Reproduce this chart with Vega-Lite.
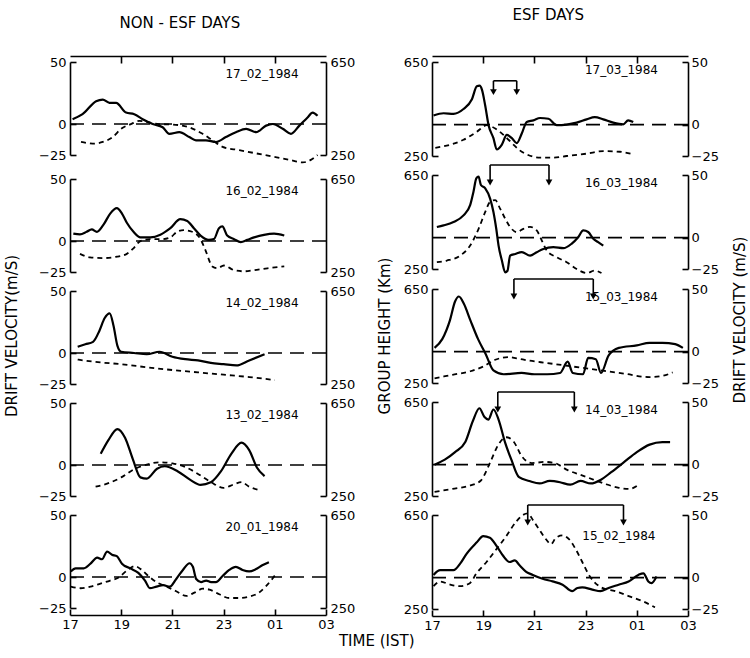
{
"$schema": "https://vega.github.io/schema/vega-lite/v6.json",
"background": "white",
"padding": {"left": 4, "top": 8, "right": 2, "bottom": 2},
"config": {
  "font": "DejaVu Sans",
  "view": {"stroke": null},
  "axis": {"domainColor": "black", "domainWidth": 1.6, "tickColor": "black", "tickWidth": 1.6, "labelColor": "black", "labelFontSize": 13, "grid": false, "labelFlush": false, "labelOverlap": false},
  "title": {"color": "black", "fontWeight": "normal", "fontSize": 15},
  "header": {"titleFontWeight": "normal", "titleFontSize": 15, "titleColor": "black"}
},
"title": {"text": "TIME (IST)", "orient": "bottom", "anchor": "middle", "offset": 2},
"datasets": {
"left": [
{"p":"17_02_1984","t":17.10,"v":3.9},{"p":"17_02_1984","t":17.49,"v":7.9},{"p":"17_02_1984","t":18.02,"v":18.4},{"p":"17_02_1984","t":18.28,"v":19.7},{"p":"17_02_1984","t":18.54,"v":17.1},{"p":"17_02_1984","t":18.80,"v":17.1},{"p":"17_02_1984","t":19.19,"v":9.2},{"p":"17_02_1984","t":19.51,"v":7.9},{"p":"17_02_1984","t":19.84,"v":3.9},{"p":"17_02_1984","t":20.23,"v":0},{"p":"17_02_1984","t":20.62,"v":-2.6},{"p":"17_02_1984","t":20.88,"v":-7.9},{"p":"17_02_1984","t":21.27,"v":-6.6},{"p":"17_02_1984","t":21.66,"v":-10.5},{"p":"17_02_1984","t":21.92,"v":-13.2},{"p":"17_02_1984","t":22.31,"v":-13.2},{"p":"17_02_1984","t":22.70,"v":-14.5},{"p":"17_02_1984","t":23.09,"v":-10.5},{"p":"17_02_1984","t":23.48,"v":-6.6},{"p":"17_02_1984","t":23.88,"v":-3.9},{"p":"17_02_1984","t":24.27,"v":-6.6},{"p":"17_02_1984","t":24.66,"v":-1.3},{"p":"17_02_1984","t":24.92,"v":0},{"p":"17_02_1984","t":25.31,"v":-3.9},{"p":"17_02_1984","t":25.63,"v":-7.9},{"p":"17_02_1984","t":25.96,"v":-1.3},{"p":"17_02_1984","t":26.28,"v":5.3},{"p":"17_02_1984","t":26.48,"v":9.2},{"p":"17_02_1984","t":26.67,"v":6.6},
{"p":"17_02_1984","t":17.43,"h":306},{"p":"17_02_1984","t":17.89,"h":299},{"p":"17_02_1984","t":18.28,"h":306},{"p":"17_02_1984","t":18.67,"h":327},{"p":"17_02_1984","t":18.99,"h":362},{"p":"17_02_1984","t":19.38,"h":383},{"p":"17_02_1984","t":19.71,"h":397},{"p":"17_02_1984","t":20.10,"h":390},{"p":"17_02_1984","t":20.49,"h":383},{"p":"17_02_1984","t":21.01,"h":381},{"p":"17_02_1984","t":21.66,"h":369},{"p":"17_02_1984","t":22.18,"h":341},{"p":"17_02_1984","t":22.57,"h":313},{"p":"17_02_1984","t":22.96,"h":285},{"p":"17_02_1984","t":23.61,"h":271},{"p":"17_02_1984","t":24.27,"h":257},{"p":"17_02_1984","t":24.92,"h":243},{"p":"17_02_1984","t":25.57,"h":229},{"p":"17_02_1984","t":26.09,"h":218},{"p":"17_02_1984","t":26.41,"h":229},{"p":"17_02_1984","t":26.67,"h":250},
{"p":"16_02_1984","t":17.13,"v":5.9},{"p":"16_02_1984","t":17.39,"v":5.3},{"p":"16_02_1984","t":17.65,"v":7.4},{"p":"16_02_1984","t":17.85,"v":9.4},{"p":"16_02_1984","t":18.05,"v":7.4},{"p":"16_02_1984","t":18.31,"v":13.2},{"p":"16_02_1984","t":18.57,"v":22.1},{"p":"16_02_1984","t":18.83,"v":26.5},{"p":"16_02_1984","t":19.03,"v":22.1},{"p":"16_02_1984","t":19.22,"v":14.7},{"p":"16_02_1984","t":19.48,"v":7.4},{"p":"16_02_1984","t":19.75,"v":2.9},{"p":"16_02_1984","t":20.14,"v":2.9},{"p":"16_02_1984","t":20.53,"v":5.0},{"p":"16_02_1984","t":20.92,"v":10.3},{"p":"16_02_1984","t":21.31,"v":17.6},{"p":"16_02_1984","t":21.58,"v":16.2},{"p":"16_02_1984","t":21.84,"v":10.3},{"p":"16_02_1984","t":22.10,"v":4.4},{"p":"16_02_1984","t":22.42,"v":0.9},{"p":"16_02_1984","t":22.62,"v":1.5},{"p":"16_02_1984","t":22.82,"v":10.3},{"p":"16_02_1984","t":22.95,"v":11.8},{"p":"16_02_1984","t":23.14,"v":4.4},{"p":"16_02_1984","t":23.41,"v":1.5},{"p":"16_02_1984","t":23.67,"v":-0.9},{"p":"16_02_1984","t":23.93,"v":0.9},{"p":"16_02_1984","t":24.19,"v":2.9},{"p":"16_02_1984","t":24.58,"v":5.0},{"p":"16_02_1984","t":24.97,"v":5.9},{"p":"16_02_1984","t":25.37,"v":4.4},
{"p":"16_02_1984","t":17.39,"h":328},{"p":"16_02_1984","t":17.78,"h":313},{"p":"16_02_1984","t":18.31,"h":310},{"p":"16_02_1984","t":18.83,"h":316},{"p":"16_02_1984","t":19.22,"h":328},{"p":"16_02_1984","t":19.48,"h":352},{"p":"16_02_1984","t":19.75,"h":383},{"p":"16_02_1984","t":20.14,"h":391},{"p":"16_02_1984","t":20.53,"h":391},{"p":"16_02_1984","t":20.92,"h":399},{"p":"16_02_1984","t":21.18,"h":423},{"p":"16_02_1984","t":21.44,"h":430},{"p":"16_02_1984","t":21.77,"h":423},{"p":"16_02_1984","t":22.10,"h":391},{"p":"16_02_1984","t":22.29,"h":344},{"p":"16_02_1984","t":22.56,"h":274},{"p":"16_02_1984","t":22.75,"h":266},{"p":"16_02_1984","t":23.01,"h":278},{"p":"16_02_1984","t":23.41,"h":258},{"p":"16_02_1984","t":23.80,"h":253},{"p":"16_02_1984","t":24.19,"h":258},{"p":"16_02_1984","t":24.71,"h":266},{"p":"16_02_1984","t":25.37,"h":274},
{"p":"14_02_1984","t":17.3,"v":5},{"p":"14_02_1984","t":17.6,"v":7},{"p":"14_02_1984","t":17.9,"v":9},{"p":"14_02_1984","t":18.15,"v":18},{"p":"14_02_1984","t":18.35,"v":28},{"p":"14_02_1984","t":18.55,"v":32},{"p":"14_02_1984","t":18.7,"v":22},{"p":"14_02_1984","t":18.85,"v":6},{"p":"14_02_1984","t":19.0,"v":1},{"p":"14_02_1984","t":19.5,"v":0},{"p":"14_02_1984","t":20.0,"v":-1},{"p":"14_02_1984","t":20.5,"v":1},{"p":"14_02_1984","t":21.0,"v":-3},{"p":"14_02_1984","t":21.5,"v":-5},{"p":"14_02_1984","t":22.0,"v":-6},{"p":"14_02_1984","t":22.5,"v":-8},{"p":"14_02_1984","t":23.0,"v":-9},{"p":"14_02_1984","t":23.5,"v":-10},{"p":"14_02_1984","t":24.0,"v":-6},{"p":"14_02_1984","t":24.6,"v":-1},
{"p":"14_02_1984","t":17.3,"h":355},{"p":"14_02_1984","t":18.0,"h":345},{"p":"14_02_1984","t":19.0,"h":335},{"p":"14_02_1984","t":20.0,"h":322},{"p":"14_02_1984","t":21.0,"h":310},{"p":"14_02_1984","t":22.0,"h":300},{"p":"14_02_1984","t":23.0,"h":290},{"p":"14_02_1984","t":24.0,"h":280},{"p":"14_02_1984","t":25.0,"h":267},
{"p":"13_02_1984","t":18.2,"v":9},{"p":"13_02_1984","t":18.5,"v":20},{"p":"13_02_1984","t":18.85,"v":29},{"p":"13_02_1984","t":19.15,"v":22},{"p":"13_02_1984","t":19.45,"v":5},{"p":"13_02_1984","t":19.75,"v":-10},{"p":"13_02_1984","t":20.0,"v":-11},{"p":"13_02_1984","t":20.4,"v":-3},{"p":"13_02_1984","t":20.7,"v":-1},{"p":"13_02_1984","t":21.2,"v":-5},{"p":"13_02_1984","t":21.7,"v":-12},{"p":"13_02_1984","t":22.1,"v":-16},{"p":"13_02_1984","t":22.5,"v":-14},{"p":"13_02_1984","t":22.9,"v":-5},{"p":"13_02_1984","t":23.3,"v":9},{"p":"13_02_1984","t":23.7,"v":18},{"p":"13_02_1984","t":24.0,"v":12},{"p":"13_02_1984","t":24.3,"v":-2},{"p":"13_02_1984","t":24.6,"v":-9},
{"p":"13_02_1984","t":18.0,"h":290},{"p":"13_02_1984","t":18.5,"h":305},{"p":"13_02_1984","t":19.0,"h":330},{"p":"13_02_1984","t":19.5,"h":365},{"p":"13_02_1984","t":20.0,"h":385},{"p":"13_02_1984","t":20.5,"h":395},{"p":"13_02_1984","t":21.0,"h":390},{"p":"13_02_1984","t":21.5,"h":375},{"p":"13_02_1984","t":22.0,"h":345},{"p":"13_02_1984","t":22.5,"h":310},{"p":"13_02_1984","t":23.0,"h":285},{"p":"13_02_1984","t":23.4,"h":300},{"p":"13_02_1984","t":23.7,"h":310},{"p":"13_02_1984","t":24.0,"h":290},{"p":"13_02_1984","t":24.4,"h":275},
{"p":"20_01_1984","t":17.03,"v":4.5},{"p":"20_01_1984","t":17.22,"v":7.0},{"p":"20_01_1984","t":17.54,"v":7.0},{"p":"20_01_1984","t":17.80,"v":10.7},{"p":"20_01_1984","t":18.06,"v":15.6},{"p":"20_01_1984","t":18.25,"v":14.3},{"p":"20_01_1984","t":18.45,"v":20.5},{"p":"20_01_1984","t":18.64,"v":18.0},{"p":"20_01_1984","t":18.83,"v":16.8},{"p":"20_01_1984","t":19.03,"v":10.7},{"p":"20_01_1984","t":19.35,"v":7.0},{"p":"20_01_1984","t":19.67,"v":3.3},{"p":"20_01_1984","t":19.93,"v":-2.9},{"p":"20_01_1984","t":20.12,"v":-9.0},{"p":"20_01_1984","t":20.38,"v":-7.8},{"p":"20_01_1984","t":20.64,"v":-6.6},{"p":"20_01_1984","t":20.90,"v":-7.8},{"p":"20_01_1984","t":21.15,"v":-1.6},{"p":"20_01_1984","t":21.41,"v":5.7},{"p":"20_01_1984","t":21.67,"v":11.1},{"p":"20_01_1984","t":21.80,"v":8.2},{"p":"20_01_1984","t":21.93,"v":-1.6},{"p":"20_01_1984","t":22.12,"v":-4.1},{"p":"20_01_1984","t":22.32,"v":-2.9},{"p":"20_01_1984","t":22.51,"v":-4.1},{"p":"20_01_1984","t":22.70,"v":-4.1},{"p":"20_01_1984","t":22.96,"v":0.8},{"p":"20_01_1984","t":23.22,"v":5.7},{"p":"20_01_1984","t":23.48,"v":8.2},{"p":"20_01_1984","t":23.74,"v":5.7},{"p":"20_01_1984","t":24.00,"v":4.5},{"p":"20_01_1984","t":24.25,"v":6.2},{"p":"20_01_1984","t":24.51,"v":9.4},{"p":"20_01_1984","t":24.77,"v":11.9},
{"p":"20_01_1984","t":17.03,"h":342},{"p":"20_01_1984","t":17.41,"h":335},{"p":"20_01_1984","t":17.80,"h":342},{"p":"20_01_1984","t":18.19,"h":355},{"p":"20_01_1984","t":18.57,"h":368},{"p":"20_01_1984","t":18.90,"h":381},{"p":"20_01_1984","t":19.22,"h":411},{"p":"20_01_1984","t":19.54,"h":430},{"p":"20_01_1984","t":19.80,"h":414},{"p":"20_01_1984","t":20.06,"h":388},{"p":"20_01_1984","t":20.38,"h":361},{"p":"20_01_1984","t":20.77,"h":342},{"p":"20_01_1984","t":21.15,"h":322},{"p":"20_01_1984","t":21.54,"h":302},{"p":"20_01_1984","t":21.86,"h":316},{"p":"20_01_1984","t":22.19,"h":333},{"p":"20_01_1984","t":22.45,"h":329},{"p":"20_01_1984","t":22.83,"h":309},{"p":"20_01_1984","t":23.22,"h":293},{"p":"20_01_1984","t":23.61,"h":293},{"p":"20_01_1984","t":24.00,"h":299},{"p":"20_01_1984","t":24.38,"h":316},{"p":"20_01_1984","t":24.64,"h":342},{"p":"20_01_1984","t":24.90,"h":375},{"p":"20_01_1984","t":25.03,"h":394}
],
"right": [
{"p":"17_03_1984","s":19.4,"e":20.31},{"p":"16_03_1984","s":19.27,"e":21.57},{"p":"15_03_1984","s":20.2,"e":23.3},{"p":"14_03_1984","s":19.57,"e":22.56},{"p":"15_02_1984","s":20.74,"e":24.48},
{"p":"17_03_1984","t":17.06,"v":7.3},{"p":"17_03_1984","t":17.45,"v":9.1},{"p":"17_03_1984","t":17.84,"v":8.6},{"p":"17_03_1984","t":18.23,"v":12.5},{"p":"17_03_1984","t":18.56,"v":20.3},{"p":"17_03_1984","t":18.75,"v":30.6},{"p":"17_03_1984","t":18.86,"v":31.1},{"p":"17_03_1984","t":18.95,"v":28.0},{"p":"17_03_1984","t":19.08,"v":15.1},{"p":"17_03_1984","t":19.21,"v":-0.4},{"p":"17_03_1984","t":19.40,"v":-10.8},{"p":"17_03_1984","t":19.53,"v":-19.8},{"p":"17_03_1984","t":19.73,"v":-15.9},{"p":"17_03_1984","t":19.92,"v":-8.2},{"p":"17_03_1984","t":20.12,"v":-10.8},{"p":"17_03_1984","t":20.31,"v":-14.7},{"p":"17_03_1984","t":20.51,"v":-6.9},{"p":"17_03_1984","t":20.70,"v":2.2},{"p":"17_03_1984","t":20.96,"v":3.4},{"p":"17_03_1984","t":21.22,"v":5.3},{"p":"17_03_1984","t":21.55,"v":4.7},{"p":"17_03_1984","t":21.87,"v":-0.4},{"p":"17_03_1984","t":22.26,"v":0.1},{"p":"17_03_1984","t":22.65,"v":1.6},{"p":"17_03_1984","t":23.04,"v":4.2},{"p":"17_03_1984","t":23.36,"v":6.0},{"p":"17_03_1984","t":23.69,"v":4.2},{"p":"17_03_1984","t":24.08,"v":1.6},{"p":"17_03_1984","t":24.47,"v":0.3},{"p":"17_03_1984","t":24.66,"v":3.4},{"p":"17_03_1984","t":24.86,"v":2.1},
{"p":"17_03_1984","t":17.13,"h":285},{"p":"17_03_1984","t":17.71,"h":298},{"p":"17_03_1984","t":18.23,"h":319},{"p":"17_03_1984","t":18.75,"h":353},{"p":"17_03_1984","t":19.14,"h":381},{"p":"17_03_1984","t":19.47,"h":367},{"p":"17_03_1984","t":19.79,"h":340},{"p":"17_03_1984","t":20.12,"h":305},{"p":"17_03_1984","t":20.38,"h":278},{"p":"17_03_1984","t":20.70,"h":257},{"p":"17_03_1984","t":21.22,"h":243},{"p":"17_03_1984","t":21.74,"h":243},{"p":"17_03_1984","t":22.26,"h":250},{"p":"17_03_1984","t":23.04,"h":260},{"p":"17_03_1984","t":23.69,"h":271},{"p":"17_03_1984","t":24.34,"h":268},{"p":"17_03_1984","t":24.86,"h":257},
{"p":"16_03_1984","t":17.19,"v":8.5},{"p":"16_03_1984","t":17.45,"v":9.8},{"p":"16_03_1984","t":17.84,"v":12.5},{"p":"16_03_1984","t":18.23,"v":17.8},{"p":"16_03_1984","t":18.49,"v":25.9},{"p":"16_03_1984","t":18.62,"v":36.6},{"p":"16_03_1984","t":18.73,"v":47.3},{"p":"16_03_1984","t":18.82,"v":48.7},{"p":"16_03_1984","t":18.91,"v":42.0},{"p":"16_03_1984","t":19.08,"v":39.3},{"p":"16_03_1984","t":19.27,"v":31.2},{"p":"16_03_1984","t":19.40,"v":20.5},{"p":"16_03_1984","t":19.51,"v":7.1},{"p":"16_03_1984","t":19.60,"v":-6.3},{"p":"16_03_1984","t":19.73,"v":-18.3},{"p":"16_03_1984","t":19.86,"v":-27.7},{"p":"16_03_1984","t":19.95,"v":-26.4},{"p":"16_03_1984","t":20.05,"v":-14.3},{"p":"16_03_1984","t":20.25,"v":-13.0},{"p":"16_03_1984","t":20.51,"v":-11.6},{"p":"16_03_1984","t":20.83,"v":-14.3},{"p":"16_03_1984","t":21.09,"v":-11.6},{"p":"16_03_1984","t":21.35,"v":-9.0},{"p":"16_03_1984","t":21.74,"v":-7.6},{"p":"16_03_1984","t":22.13,"v":-8.4},{"p":"16_03_1984","t":22.45,"v":-4.9},{"p":"16_03_1984","t":22.71,"v":0.4},{"p":"16_03_1984","t":22.91,"v":5.8},{"p":"16_03_1984","t":23.10,"v":4.5},{"p":"16_03_1984","t":23.30,"v":-0.9},{"p":"16_03_1984","t":23.49,"v":-3.6},{"p":"16_03_1984","t":23.69,"v":-6.3},
{"p":"16_03_1984","t":17.19,"h":279},{"p":"16_03_1984","t":17.58,"h":286},{"p":"16_03_1984","t":18.10,"h":307},{"p":"16_03_1984","t":18.49,"h":350},{"p":"16_03_1984","t":18.82,"h":421},{"p":"16_03_1984","t":19.08,"h":493},{"p":"16_03_1984","t":19.27,"h":536},{"p":"16_03_1984","t":19.47,"h":543},{"p":"16_03_1984","t":19.66,"h":507},{"p":"16_03_1984","t":19.86,"h":464},{"p":"16_03_1984","t":20.05,"h":429},{"p":"16_03_1984","t":20.31,"h":407},{"p":"16_03_1984","t":20.57,"h":421},{"p":"16_03_1984","t":20.83,"h":429},{"p":"16_03_1984","t":21.09,"h":414},{"p":"16_03_1984","t":21.29,"h":371},{"p":"16_03_1984","t":21.48,"h":329},{"p":"16_03_1984","t":21.87,"h":300},{"p":"16_03_1984","t":22.26,"h":279},{"p":"16_03_1984","t":22.65,"h":250},{"p":"16_03_1984","t":23.04,"h":233},{"p":"16_03_1984","t":23.36,"h":243},{"p":"16_03_1984","t":23.62,"h":233},
{"p":"15_03_1984","t":17.1,"v":3},{"p":"15_03_1984","t":17.4,"v":10},{"p":"15_03_1984","t":17.7,"v":25},{"p":"15_03_1984","t":17.9,"v":40},{"p":"15_03_1984","t":18.05,"v":44},{"p":"15_03_1984","t":18.25,"v":38},{"p":"15_03_1984","t":18.5,"v":25},{"p":"15_03_1984","t":18.8,"v":10},{"p":"15_03_1984","t":19.1,"v":-2},{"p":"15_03_1984","t":19.4,"v":-15},{"p":"15_03_1984","t":19.8,"v":-18},{"p":"15_03_1984","t":20.5,"v":-17},{"p":"15_03_1984","t":21.0,"v":-18},{"p":"15_03_1984","t":21.5,"v":-18},{"p":"15_03_1984","t":22.0,"v":-17},{"p":"15_03_1984","t":22.3,"v":-8},{"p":"15_03_1984","t":22.5,"v":-17},{"p":"15_03_1984","t":22.9,"v":-18},{"p":"15_03_1984","t":23.1,"v":-5},{"p":"15_03_1984","t":23.4,"v":-6},{"p":"15_03_1984","t":23.6,"v":-17},{"p":"15_03_1984","t":23.9,"v":-3},{"p":"15_03_1984","t":24.3,"v":3},{"p":"15_03_1984","t":25.0,"v":5},{"p":"15_03_1984","t":25.5,"v":7},{"p":"15_03_1984","t":26.0,"v":7},{"p":"15_03_1984","t":26.5,"v":6},{"p":"15_03_1984","t":26.8,"v":3},
{"p":"15_03_1984","t":17.1,"h":270},{"p":"15_03_1984","t":17.8,"h":285},{"p":"15_03_1984","t":18.5,"h":300},{"p":"15_03_1984","t":19.0,"h":320},{"p":"15_03_1984","t":19.5,"h":350},{"p":"15_03_1984","t":20.0,"h":360},{"p":"15_03_1984","t":20.3,"h":355},{"p":"15_03_1984","t":20.8,"h":345},{"p":"15_03_1984","t":21.5,"h":335},{"p":"15_03_1984","t":22.5,"h":320},{"p":"15_03_1984","t":23.5,"h":305},{"p":"15_03_1984","t":24.5,"h":290},{"p":"15_03_1984","t":25.5,"h":275},{"p":"15_03_1984","t":26.0,"h":280},{"p":"15_03_1984","t":26.4,"h":295},
{"p":"14_03_1984","t":17.1,"v":0},{"p":"14_03_1984","t":17.5,"v":4},{"p":"14_03_1984","t":17.9,"v":10},{"p":"14_03_1984","t":18.3,"v":18},{"p":"14_03_1984","t":18.6,"v":35},{"p":"14_03_1984","t":18.85,"v":45},{"p":"14_03_1984","t":19.05,"v":38},{"p":"14_03_1984","t":19.2,"v":36},{"p":"14_03_1984","t":19.4,"v":44},{"p":"14_03_1984","t":19.6,"v":36},{"p":"14_03_1984","t":19.85,"v":18},{"p":"14_03_1984","t":20.1,"v":4},{"p":"14_03_1984","t":20.4,"v":-10},{"p":"14_03_1984","t":20.8,"v":-13},{"p":"14_03_1984","t":21.2,"v":-15},{"p":"14_03_1984","t":21.6,"v":-13},{"p":"14_03_1984","t":22.0,"v":-14},{"p":"14_03_1984","t":22.4,"v":-16},{"p":"14_03_1984","t":22.8,"v":-13},{"p":"14_03_1984","t":23.2,"v":-15},{"p":"14_03_1984","t":23.6,"v":-12},{"p":"14_03_1984","t":24.0,"v":-6},{"p":"14_03_1984","t":24.5,"v":2},{"p":"14_03_1984","t":25.0,"v":10},{"p":"14_03_1984","t":25.5,"v":16},{"p":"14_03_1984","t":26.0,"v":18},{"p":"14_03_1984","t":26.3,"v":18},
{"p":"14_03_1984","t":17.1,"h":268},{"p":"14_03_1984","t":17.8,"h":280},{"p":"14_03_1984","t":18.5,"h":295},{"p":"14_03_1984","t":18.9,"h":315},{"p":"14_03_1984","t":19.3,"h":400},{"p":"14_03_1984","t":19.6,"h":470},{"p":"14_03_1984","t":19.9,"h":500},{"p":"14_03_1984","t":20.2,"h":480},{"p":"14_03_1984","t":20.5,"h":420},{"p":"14_03_1984","t":20.9,"h":390},{"p":"14_03_1984","t":21.4,"h":395},{"p":"14_03_1984","t":21.8,"h":390},{"p":"14_03_1984","t":22.3,"h":360},{"p":"14_03_1984","t":22.8,"h":340},{"p":"14_03_1984","t":23.3,"h":320},{"p":"14_03_1984","t":23.8,"h":300},{"p":"14_03_1984","t":24.3,"h":285},{"p":"14_03_1984","t":24.7,"h":280},{"p":"14_03_1984","t":25.1,"h":300},
{"p":"15_02_1984","t":17.06,"v":2.2},{"p":"15_02_1984","t":17.32,"v":6.0},{"p":"15_02_1984","t":17.84,"v":6.0},{"p":"15_02_1984","t":18.10,"v":11.2},{"p":"15_02_1984","t":18.35,"v":19.0},{"p":"15_02_1984","t":18.74,"v":28.0},{"p":"15_02_1984","t":19.00,"v":33.2},{"p":"15_02_1984","t":19.26,"v":31.9},{"p":"15_02_1984","t":19.52,"v":25.4},{"p":"15_02_1984","t":19.77,"v":17.7},{"p":"15_02_1984","t":20.03,"v":12.5},{"p":"15_02_1984","t":20.23,"v":13.8},{"p":"15_02_1984","t":20.42,"v":9.9},{"p":"15_02_1984","t":20.68,"v":4.7},{"p":"15_02_1984","t":20.94,"v":2.2},{"p":"15_02_1984","t":21.32,"v":-0.9},{"p":"15_02_1984","t":21.71,"v":-3.0},{"p":"15_02_1984","t":22.10,"v":-5.6},{"p":"15_02_1984","t":22.48,"v":-10.8},{"p":"15_02_1984","t":22.68,"v":-8.2},{"p":"15_02_1984","t":22.87,"v":-7.7},{"p":"15_02_1984","t":23.26,"v":-9.5},{"p":"15_02_1984","t":23.58,"v":-10.8},{"p":"15_02_1984","t":23.90,"v":-8.2},{"p":"15_02_1984","t":24.29,"v":-5.6},{"p":"15_02_1984","t":24.68,"v":-3.0},{"p":"15_02_1984","t":25.06,"v":2.2},{"p":"15_02_1984","t":25.26,"v":3.5},{"p":"15_02_1984","t":25.45,"v":-3.0},{"p":"15_02_1984","t":25.58,"v":-4.3},{"p":"15_02_1984","t":25.77,"v":0.9},
{"p":"15_02_1984","t":17.06,"h":347},{"p":"15_02_1984","t":17.32,"h":367},{"p":"15_02_1984","t":17.71,"h":354},{"p":"15_02_1984","t":18.10,"h":347},{"p":"15_02_1984","t":18.48,"h":360},{"p":"15_02_1984","t":18.74,"h":402},{"p":"15_02_1984","t":19.13,"h":450},{"p":"15_02_1984","t":19.52,"h":505},{"p":"15_02_1984","t":19.90,"h":560},{"p":"15_02_1984","t":20.29,"h":622},{"p":"15_02_1984","t":20.55,"h":650},{"p":"15_02_1984","t":20.74,"h":657},{"p":"15_02_1984","t":20.94,"h":629},{"p":"15_02_1984","t":21.19,"h":588},{"p":"15_02_1984","t":21.45,"h":547},{"p":"15_02_1984","t":21.65,"h":526},{"p":"15_02_1984","t":21.84,"h":553},{"p":"15_02_1984","t":22.10,"h":563},{"p":"15_02_1984","t":22.35,"h":547},{"p":"15_02_1984","t":22.61,"h":505},{"p":"15_02_1984","t":22.87,"h":450},{"p":"15_02_1984","t":23.13,"h":395},{"p":"15_02_1984","t":23.32,"h":367},{"p":"15_02_1984","t":23.65,"h":340},{"p":"15_02_1984","t":24.16,"h":326},{"p":"15_02_1984","t":24.68,"h":305},{"p":"15_02_1984","t":25.19,"h":285},{"p":"15_02_1984","t":25.71,"h":257}
]
},
"spacing": 22,
"hconcat": [
{
  "data": {"name": "left"},
  "title": {"text": "NON - ESF DAYS", "offset": 24, "anchor": "middle"},
  "facet": {"row": {"field": "p", "type": "nominal", "sort": ["17_02_1984","16_02_1984","14_02_1984","13_02_1984","20_01_1984"], "header": {"labels": false, "title": "DRIFT VELOCITY(m/S)", "titleOrient": "left", "titlePadding": 8}}},
  "spacing": 6,
  "resolve": {"scale": {"y": "independent"}},
  "spec": {
    "width": 256, "height": 93,
    "layer": [
      {"transform": [{"aggregate": [{"op": "count", "as": "n"}], "groupby": ["p"]}],
       "mark": {"type": "rule", "strokeDash": [14, 8], "strokeWidth": 1.6, "color": "black"},
       "encoding": {"y": {"datum": 0, "type": "quantitative", "scale": {"domain": [-25, 50], "nice": false, "zero": false}, "axis": null}}},
      {"transform": [{"filter": "isValid(datum.v)"}],
       "mark": {"type": "line", "strokeWidth": 2.2, "color": "black", "interpolate": "monotone"},
       "encoding": {
         "x": {"field": "t", "type": "quantitative", "scale": {"domain": [17, 27], "nice": false, "zero": false},
               "axis": {"orient": "bottom", "values": [17, 19, 21, 23, 25, 27], "labelExpr": "datum.value > 24 ? '0' + (datum.value - 24) : '' + datum.value", "tickSize": -6, "labelPadding": 9, "title": null}},
         "y": {"field": "v", "type": "quantitative", "scale": {"domain": [-25, 50], "nice": false, "zero": false},
               "axis": {"orient": "left", "values": [-25, 0, 50], "tickSize": -6, "labelPadding": 10, "title": null}}}},
      {"transform": [{"aggregate": [{"op": "count", "as": "n"}], "groupby": ["p"]}],
       "mark": {"type": "text", "fontSize": 12, "color": "black", "align": "center", "baseline": "middle"},
       "encoding": {"text": {"field": "p"},
         "x": {"datum": 24.5, "type": "quantitative", "axis": null},
         "y": {"datum": 40, "type": "quantitative", "scale": {"domain": [-25, 50], "nice": false, "zero": false}, "axis": null}}},
      {"transform": [{"filter": "isValid(datum.h)"}],
       "mark": {"type": "line", "strokeWidth": 1.8, "color": "black", "strokeDash": [5, 4], "interpolate": "monotone"},
       "encoding": {
         "x": {"field": "t", "type": "quantitative", "scale": {"domain": [17, 27], "nice": false, "zero": false},
               "axis": {"orient": "top", "values": [19, 21, 23, 25], "labels": false, "tickSize": -7, "title": null}},
         "y": {"field": "h", "type": "quantitative", "scale": {"domain": [250, 650], "nice": false, "zero": false},
               "axis": {"orient": "right", "values": [250, 650], "tickSize": -6, "labelPadding": 10, "title": null}}}}
    ],
    "resolve": {"scale": {"y": "independent"}}
  }
},
{
  "title": {"text": "DRIFT VELOCITY (m/S)", "orient": "right", "anchor": "middle", "angle": -90, "offset": 0},
  "vconcat": [
  {
  "data": {"name": "right"},
  "title": {"text": "ESF DAYS", "offset": 32, "anchor": "middle"},
  "facet": {"row": {"field": "p", "type": "nominal", "sort": ["17_03_1984","16_03_1984","15_03_1984","14_03_1984","15_02_1984"], "header": {"labels": false, "title": "GROUP HEIGHT (Km)", "titleOrient": "left", "titlePadding": 0}}},
  "spacing": 1,
  "resolve": {"scale": {"y": "independent"}},
  "spec": {
    "width": 256, "height": 94,
    "layer": [
      {"transform": [{"aggregate": [{"op": "count", "as": "n"}], "groupby": ["p"]}],
       "mark": {"type": "rule", "strokeDash": [14, 8], "strokeWidth": 1.6, "color": "black"},
       "encoding": {"y": {"datum": 0, "type": "quantitative", "scale": {"domain": [-25, 50], "nice": false, "zero": false}, "axis": null}}},
      {"transform": [{"filter": "isValid(datum.v)"}],
       "mark": {"type": "line", "strokeWidth": 2.2, "color": "black", "interpolate": "monotone"},
       "encoding": {
         "x": {"field": "t", "type": "quantitative", "scale": {"domain": [17, 27], "nice": false, "zero": false},
               "axis": {"orient": "bottom", "values": [17, 19, 21, 23, 25, 27], "labelExpr": "datum.value > 24 ? '0' + (datum.value - 24) : '' + datum.value", "tickSize": -6, "labelPadding": 9, "title": null}},
         "y": {"field": "v", "type": "quantitative", "scale": {"domain": [-25, 50], "nice": false, "zero": false},
               "axis": {"orient": "right", "values": [-25, 0, 50], "tickSize": -6, "labelPadding": 9, "title": null}}}},
      {"transform": [{"aggregate": [{"op": "count", "as": "n"}], "groupby": ["p"]}, {"filter": "datum.p != '15_02_1984'"}],
       "mark": {"type": "text", "fontSize": 12, "color": "black", "align": "center", "baseline": "middle"},
       "encoding": {"text": {"field": "p"},
         "x": {"datum": 24.4, "type": "quantitative", "axis": null},
         "y": {"datum": 44, "type": "quantitative", "scale": {"domain": [-25, 50], "nice": false, "zero": false}, "axis": null}}},
      {"transform": [{"aggregate": [{"op": "count", "as": "n"}], "groupby": ["p"]}, {"filter": "datum.p == '15_02_1984'"}],
       "mark": {"type": "text", "fontSize": 12, "color": "black", "align": "center", "baseline": "middle"},
       "encoding": {"text": {"field": "p"},
         "x": {"datum": 24.3, "type": "quantitative", "axis": null},
         "y": {"datum": 33, "type": "quantitative", "scale": {"domain": [-25, 50], "nice": false, "zero": false}, "axis": null}}},
      {"transform": [{"filter": "isValid(datum.s) && datum.p != '17_03_1984'"}],
       "mark": {"type": "rule", "strokeWidth": 1.6, "color": "black"},
       "encoding": {"x": {"field": "s", "type": "quantitative", "axis": null}, "x2": {"field": "e"}, "y": {"datum": 58, "type": "quantitative", "scale": {"domain": [-25, 50], "nice": false, "zero": false}, "axis": null}}},
      {"transform": [{"filter": "isValid(datum.s) && datum.p != '17_03_1984'"}, {"fold": ["s", "e"], "as": ["k", "x"]}],
       "mark": {"type": "rule", "strokeWidth": 1.6, "color": "black"},
       "encoding": {"x": {"field": "x", "type": "quantitative", "axis": null}, "y": {"datum": 58, "type": "quantitative", "scale": {"domain": [-25, 50], "nice": false, "zero": false}, "axis": null}, "y2": {"datum": 45}}},
      {"transform": [{"filter": "isValid(datum.s) && datum.p != '17_03_1984'"}, {"fold": ["s", "e"], "as": ["k", "x"]}],
       "mark": {"type": "point", "shape": "triangle-down", "filled": true, "size": 45, "color": "black", "opacity": 1},
       "encoding": {"x": {"field": "x", "type": "quantitative", "axis": null}, "y": {"datum": 44, "type": "quantitative", "scale": {"domain": [-25, 50], "nice": false, "zero": false}, "axis": null}}},
      {"transform": [{"filter": "isValid(datum.s) && datum.p == '17_03_1984'"}],
       "mark": {"type": "rule", "strokeWidth": 1.6, "color": "black"},
       "encoding": {"x": {"field": "s", "type": "quantitative", "axis": null}, "x2": {"field": "e"}, "y": {"datum": 35, "type": "quantitative", "scale": {"domain": [-25, 50], "nice": false, "zero": false}, "axis": null}}},
      {"transform": [{"filter": "isValid(datum.s) && datum.p == '17_03_1984'"}, {"fold": ["s", "e"], "as": ["k", "x"]}],
       "mark": {"type": "rule", "strokeWidth": 1.6, "color": "black"},
       "encoding": {"x": {"field": "x", "type": "quantitative", "axis": null}, "y": {"datum": 35, "type": "quantitative", "scale": {"domain": [-25, 50], "nice": false, "zero": false}, "axis": null}, "y2": {"datum": 27}}},
      {"transform": [{"filter": "isValid(datum.s) && datum.p == '17_03_1984'"}, {"fold": ["s", "e"], "as": ["k", "x"]}],
       "mark": {"type": "point", "shape": "triangle-down", "filled": true, "size": 45, "color": "black", "opacity": 1},
       "encoding": {"x": {"field": "x", "type": "quantitative", "axis": null}, "y": {"datum": 26, "type": "quantitative", "scale": {"domain": [-25, 50], "nice": false, "zero": false}, "axis": null}}},
      {"transform": [{"filter": "isValid(datum.h)"}],
       "mark": {"type": "line", "strokeWidth": 1.8, "color": "black", "strokeDash": [5, 4], "interpolate": "monotone"},
       "encoding": {
         "x": {"field": "t", "type": "quantitative", "scale": {"domain": [17, 27], "nice": false, "zero": false},
               "axis": {"orient": "top", "values": [19, 21, 23, 25], "labels": false, "tickSize": -7, "title": null}},
         "y": {"field": "h", "type": "quantitative", "scale": {"domain": [250, 650], "nice": false, "zero": false},
               "axis": {"orient": "left", "values": [250, 650], "tickSize": -6, "labelPadding": 10, "title": null}}}}
    ],
    "resolve": {"scale": {"y": "independent"}}
  }
  }
  ]
}
]
}
